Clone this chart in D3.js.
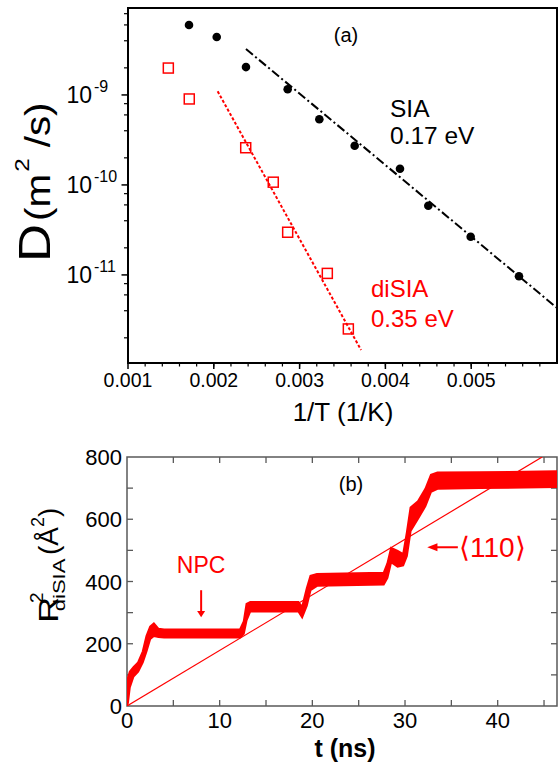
<!DOCTYPE html>
<html><head><meta charset="utf-8">
<script src="https://cdn.jsdelivr.net/npm/d3@7"></script>
<style>body{margin:0;background:#fff}svg{display:block}text{font-family:"Liberation Sans",Arial,sans-serif}</style>
</head><body>
<script>
// ---------- Panel (a) data ----------
const siaInvT = [0.001711, 0.002034, 0.002375, 0.002861, 0.00323, 0.003642, 0.00417, 0.0045, 0.004994, 0.005557];
const siaD    = [5.99e-9, 4.40e-9, 2.04e-9, 1.156e-9, 5.36e-10, 2.73e-10, 1.515e-10, 5.88e-11, 2.66e-11, 9.66e-12];
const disiaInvT = [0.00147, 0.001714, 0.002372, 0.002693, 0.002861, 0.003323, 0.003568];
const disiaD    = [1.99e-9, 9.02e-10, 2.59e-10, 1.073e-10, 2.98e-11, 1.04e-11, 2.51e-12];
const siaFitInvT = [0.002375, 0.006];
const siaFitD    = [3.24e-9, 4.30e-12];
const disiaFitInvT = [0.002045, 0.003716];
const disiaFitD    = [1.098e-9, 1.466e-12];
const xTicksA = [0.001, 0.002, 0.003, 0.004, 0.005];
const xTickLabelsA = ["0.001", "0.002", "0.003", "0.004", "0.005"];
const yTicksA = [1e-9, 1e-10, 1e-11];
const yTickExpA = ["-9", "-10", "-11"];

// ---------- Panel (b) data ----------
const trajT  = [0, 0.1, 0.3, 0.7, 1.2, 1.7, 2.1, 2.5, 2.9, 3.4, 4.0, 8, 12.2, 12.6, 12.9, 13.3, 18.5, 18.9, 19.4, 19.8, 20.5, 27.7, 28.1, 28.5, 29.2, 29.8, 30.2, 30.6, 31.4, 32.2, 32.8, 33.5, 38, 46.4];
const trajLo = [0, 10, 60, 95, 110, 140, 175, 215, 225, 222, 220, 220, 220, 232, 275, 304, 304, 285, 322, 372, 386, 390, 412, 462, 448, 452, 482, 562, 602, 642, 688, 698, 700, 704];
const trajHi = [30, 90, 110, 125, 140, 175, 225, 255, 265, 248, 246, 246, 246, 272, 328, 334, 334, 318, 378, 418, 424, 428, 458, 508, 498, 488, 558, 638, 658, 698, 743, 750, 751, 754];
const fitT  = [0, 44.8];
const fitR2 = [0, 800];
const xTicksB = [0, 10, 20, 30, 40];
const yTicksB = [0, 200, 400, 600, 800];

const W = 559, H = 763;
const svg = d3.select("body").append("svg").attr("width", W).attr("height", H);
svg.append("rect").attr("width", W).attr("height", H).attr("fill", "#fff");

// ================= Panel (a) =================
const ax = d3.scaleLinear().domain([0.001, 0.006]).range([128, 557]);
const ay = d3.scaleLog().domain([1.05e-12, 9.25e-9]).range([363, 8]);
const gA = svg.append("g");

const xMinorA = d3.range(0.0012, 0.00599, 0.0002);
gA.selectAll(".xmin").data(xMinorA).join("line")
  .attr("x1", d => ax(d)).attr("x2", d => ax(d)).attr("y1", 363).attr("y2", 366.5)
  .attr("stroke", "#000").attr("stroke-width", 1.2);
gA.selectAll(".xmaj").data(xTicksA).join("line")
  .attr("x1", d => ax(d)).attr("x2", d => ax(d)).attr("y1", 363).attr("y2", 369)
  .attr("stroke", "#000").attr("stroke-width", 1.5);
const yMinorA = [];
[-12, -11, -10, -9].forEach(e => [2, 4, 6, 8].forEach(m => { const v = m * Math.pow(10, e); if (v > 1.05e-12 && v < 9.25e-9) yMinorA.push(v); }));
gA.selectAll(".ymin").data(yMinorA).join("line")
  .attr("x1", 124).attr("x2", 128).attr("y1", d => ay(d)).attr("y2", d => ay(d))
  .attr("stroke", "#000").attr("stroke-width", 1.2);
gA.selectAll(".ymaj").data(yTicksA).join("line")
  .attr("x1", 121.5).attr("x2", 128).attr("y1", d => ay(d)).attr("y2", d => ay(d))
  .attr("stroke", "#000").attr("stroke-width", 1.5);

gA.append("rect").attr("x", 128).attr("y", 8).attr("width", 429).attr("height", 355)
  .attr("fill", "none").attr("stroke", "#000").attr("stroke-width", 2);

gA.selectAll(".xl").data(xTicksA).join("text")
  .attr("x", d => ax(d)).attr("y", 387).attr("text-anchor", "middle")
  .attr("font-size", 19.5).text((d, i) => xTickLabelsA[i]);
yTicksA.forEach((v, i) => {
  gA.append("text").attr("x", 92).attr("y", ay(v) + 8).attr("text-anchor", "end")
    .attr("font-size", 23).text("10");
  gA.append("text").attr("x", 94).attr("y", ay(v) - 3).attr("text-anchor", "start")
    .attr("font-size", 16).text(yTickExpA[i]);
});

gA.append("text").attr("x", 343).attr("y", 421).attr("text-anchor", "middle")
  .attr("font-size", 26).text("1/T (1/K)");
const yl = gA.append("g").attr("transform", "translate(50,262) rotate(-90)");
yl.append("text").attr("x", 0).attr("y", 0).attr("font-size", 44)
  .attr("transform", "scale(1.2,1)").text("D");
const yl2 = yl.append("text").attr("transform", "translate(41,0) scale(1.15,1)").attr("font-size", 35);
yl2.append("tspan").text("(m");
yl2.append("tspan").attr("font-size", 21).attr("dy", -21).attr("dx", 2).text("2");
yl2.append("tspan").attr("font-size", 35).attr("dy", 21).text(" /s)");

const lineA = d3.line().x(d => ax(d[0])).y(d => ay(d[1]));
gA.append("path").attr("d", lineA(siaFitInvT.map((x, i) => [x, siaFitD[i]])))
  .attr("fill", "none").attr("stroke", "#000").attr("stroke-width", 2)
  .attr("stroke-dasharray", "9,3,2,3");
gA.append("path").attr("d", lineA(disiaFitInvT.map((x, i) => [x, disiaFitD[i]])))
  .attr("fill", "none").attr("stroke", "#f00").attr("stroke-width", 2)
  .attr("stroke-dasharray", "3,2");

gA.selectAll(".sia").data(siaInvT).join("circle")
  .attr("cx", d => ax(d)).attr("cy", (d, i) => ay(siaD[i])).attr("r", 4.3).attr("fill", "#000");
gA.selectAll(".disia").data(disiaInvT).join("rect")
  .attr("x", d => ax(d) - 5).attr("y", (d, i) => ay(disiaD[i]) - 5).attr("width", 10).attr("height", 10)
  .attr("fill", "none").attr("stroke", "#f00").attr("stroke-width", 1.5);

gA.append("text").attr("x", 346).attr("y", 42).attr("text-anchor", "middle").attr("font-size", 20).text("(a)");
gA.append("text").attr("x", 390).attr("y", 117).attr("font-size", 24.5).text("SIA");
gA.append("text").attr("x", 390).attr("y", 144).attr("font-size", 24.5).text("0.17 eV");
gA.append("text").attr("x", 371).attr("y", 297).attr("font-size", 24).attr("fill", "#f00").text("diSIA");
gA.append("text").attr("x", 371).attr("y", 327).attr("font-size", 24).attr("fill", "#f00").text("0.35 eV");

// ================= Panel (b) =================
const bx = d3.scaleLinear().domain([0, 46.4]).range([127, 557]);
const by = d3.scaleLinear().domain([0, 800]).range([706, 457]);
const gB = svg.append("g");
const axisCol = "#595959";

gB.append("rect").attr("x", 127).attr("y", 457).attr("width", 430).attr("height", 249)
  .attr("fill", "none").attr("stroke", axisCol).attr("stroke-width", 1.5);
const xt5 = d3.range(5, 46, 5);
gB.selectAll(".bxt").data(xt5).join("line")
  .attr("x1", d => bx(d)).attr("x2", d => bx(d)).attr("y1", 706).attr("y2", 700)
  .attr("stroke", axisCol).attr("stroke-width", 1.3);
gB.selectAll(".bxt2").data(xt5).join("line")
  .attr("x1", d => bx(d)).attr("x2", d => bx(d)).attr("y1", 457).attr("y2", 463)
  .attr("stroke", axisCol).attr("stroke-width", 1.3);
const yt1 = d3.range(100, 800, 100);
gB.selectAll(".byt").data(yt1).join("line")
  .attr("x1", 127).attr("x2", 133).attr("y1", d => by(d)).attr("y2", d => by(d))
  .attr("stroke", axisCol).attr("stroke-width", 1.3);
gB.selectAll(".byt2").data(yt1).join("line")
  .attr("x1", 557).attr("x2", 551).attr("y1", d => by(d)).attr("y2", d => by(d))
  .attr("stroke", axisCol).attr("stroke-width", 1.3);

gB.selectAll(".bxl").data(xTicksB).join("text")
  .attr("x", d => bx(d)).attr("y", 728).attr("text-anchor", "middle").attr("font-size", 22).text(d => d);
gB.selectAll(".byl").data(yTicksB).join("text")
  .attr("x", 122).attr("y", d => by(d) + 8).attr("text-anchor", "end").attr("font-size", 22).text(d => d);

gB.append("text").attr("x", 345).attr("y", 757).attr("text-anchor", "middle")
  .attr("font-size", 25).attr("font-weight", "bold").text("t (ns)");

const ylb = gB.append("g").attr("transform", "translate(58,623) rotate(-90)");
ylb.append("text").attr("font-size", 28).attr("transform", "scale(1.3,1)").text("R");
ylb.append("text").attr("x", 20).attr("y", -15).attr("font-size", 19).text("2");
ylb.append("text").attr("x", 9).attr("y", 7).attr("font-size", 17).attr("transform", "scale(1.3,1)").text("diSIA");
const ylb3 = ylb.append("text").attr("transform", "translate(68,0)").attr("font-size", 28);
ylb3.append("tspan").text("(Å");
ylb3.append("tspan").attr("font-size", 18).attr("dy", -14).text("2");
ylb3.append("tspan").attr("dy", 14).text(")");

svg.append("clipPath").attr("id", "clipB").append("rect").attr("x", 127).attr("y", 457).attr("width", 430).attr("height", 249);
const area = d3.area().x(d => bx(d[0])).y0(d => by(d[1])).y1(d => by(d[2]));
gB.append("path").attr("clip-path", "url(#clipB)")
  .attr("d", area(trajT.map((t, i) => [t, trajLo[i], trajHi[i]])))
  .attr("fill", "#f00").attr("stroke", "#f00").attr("stroke-width", 2);
gB.append("path").attr("clip-path", "url(#clipB)")
  .attr("d", d3.line().x(d => bx(d[0])).y(d => by(d[1]))(fitT.map((t, i) => [t, fitR2[i]])))
  .attr("fill", "none").attr("stroke", "#f00").attr("stroke-width", 1.2);

gB.append("text").attr("x", 351).attr("y", 491).attr("text-anchor", "middle").attr("font-size", 20).text("(b)");

gB.append("text").attr("x", bx(8.0)).attr("y", 573).attr("text-anchor", "middle")
  .attr("font-size", 23).attr("font-family", "'Open Sans',sans-serif").attr("fill", "#f00").text("NPC");
gB.append("line").attr("x1", bx(8.0)).attr("x2", bx(8.0)).attr("y1", by(372)).attr("y2", by(300))
  .attr("stroke", "#f00").attr("stroke-width", 2);
gB.append("path").attr("d", `M${bx(8.0) - 4},${by(305)} L${bx(8.0) + 4},${by(305)} L${bx(8.0)},${by(285)} Z`).attr("fill", "#f00");
gB.append("text").attr("x", 459).attr("y", 557).attr("font-size", 28)
  .attr("font-family", "'DejaVu Serif','Liberation Serif',serif").attr("fill", "#f00").text("⟨110⟩");
gB.append("line").attr("x1", bx(35.7)).attr("x2", bx(33.2)).attr("y1", by(510)).attr("y2", by(510))
  .attr("stroke", "#f00").attr("stroke-width", 2);
gB.append("path").attr("d", `M${bx(33.5)},${by(510) - 4} L${bx(33.5)},${by(510) + 4} L${bx(32.4)},${by(510)} Z`).attr("fill", "#f00");
</script>
</body></html>
